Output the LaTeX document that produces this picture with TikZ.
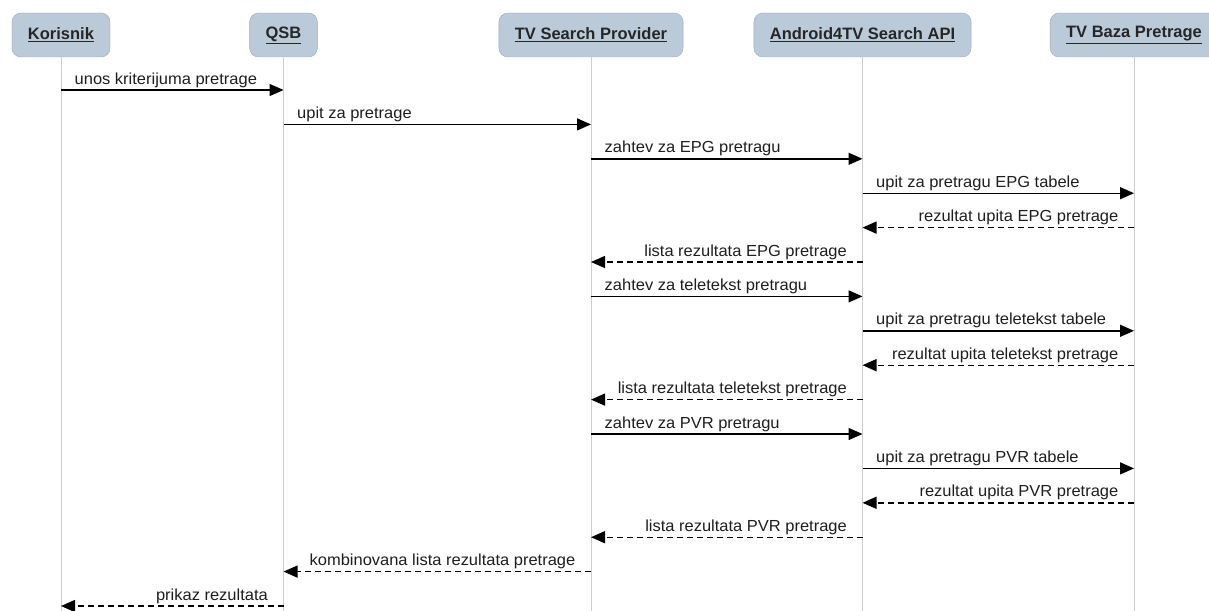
\documentclass[tikz,border=0pt]{standalone}
\usepackage{fontspec}
\setmainfont{Liberation Sans}
\newfontfamily\msgfont{Liberation Sans}[FakeStretch=1.03]
\usetikzlibrary{arrows.meta}
\definecolor{boxfill}{RGB}{187,202,217}
\definecolor{boxline}{RGB}{155,170,186}
\definecolor{lifeline}{RGB}{205,205,205}
\definecolor{msgtext}{RGB}{30,30,30}

\tikzset{
  actor/.style={draw=boxline, fill=boxfill, rounded corners=9pt, minimum height=44pt,
    inner xsep=16pt, font=\bfseries\fontsize{16.5}{20}\selectfont, text=black!85},
  life/.style={draw=lifeline, line width=0.8pt},
  call/.style={line width=1.4pt, -{Triangle[length=14pt,width=12pt]}},
  reply/.style={call, dash pattern=on 6pt off 4pt},
  lbl/.style={font=\msgfont\fontsize{16}{19}\selectfont, text=msgtext, inner sep=0pt}
}

\begin{document}
\begin{tikzpicture}[x=1pt,y=-1pt]
\useasboundingbox (0,0) rectangle (1209,610);
\clip (0,0) rectangle (1209,610);
% heads of the lifelines
\node[actor] (korisnik) at (61,35) {\underline{Korisnik}};
\node[actor] (qsb) at (283.5,35) {\underline{QSB}};
\node[actor] (provider) at (591,35) {\underline{TV Search Provider}};
\node[actor] (api) at (862.5,35) {\underline{Android4TV Search API}};
\node[actor] (baza) at (1134,35) {\underline{TV Baza Pretrage}};
\foreach \n in {korisnik,qsb,provider,api,baza}
  \draw[life] (\n.south) -- (\n |- 0,612);
% requests
\foreach \i/\a/\b/\t in {1/korisnik/qsb/{unos kriterijuma pretrage},
    2/qsb/provider/{upit za pretrage},
    3/provider/api/{zahtev za EPG pretragu},
    4/api/baza/{upit za pretragu EPG tabele},
    7/provider/api/{zahtev za teletekst pretragu},
    8/api/baza/{upit za pretragu teletekst tabele},
    11/provider/api/{zahtev za PVR pretragu},
    12/api/baza/{upit za pretragu PVR tabele}} {
  \pgfmathsetmacro\y{90+34.4*(\i-1)}
  \draw[call] (\a |- 0,\y) node[lbl, anchor=base west, xshift=13pt, yshift=6pt] {\t} -- (\b |- 0,\y);
}
% answers
\foreach \i/\a/\b/\t in {5/baza/api/{rezultat upita EPG pretrage},
    6/api/provider/{lista rezultata EPG pretrage},
    9/baza/api/{rezultat upita teletekst pretrage},
    10/api/provider/{lista rezultata teletekst pretrage},
    13/baza/api/{rezultat upita PVR pretrage},
    14/api/provider/{lista rezultata PVR pretrage},
    15/provider/qsb/{kombinovana lista rezultata pretrage},
    16/qsb/korisnik/{prikaz rezultata}} {
  \pgfmathsetmacro\y{90+34.4*(\i-1)}
  \draw[reply] (\a |- 0,\y) node[lbl, anchor=base east, xshift=-15pt, yshift=6pt] {\t} -- (\b |- 0,\y);
}
\end{tikzpicture}
\end{document}
